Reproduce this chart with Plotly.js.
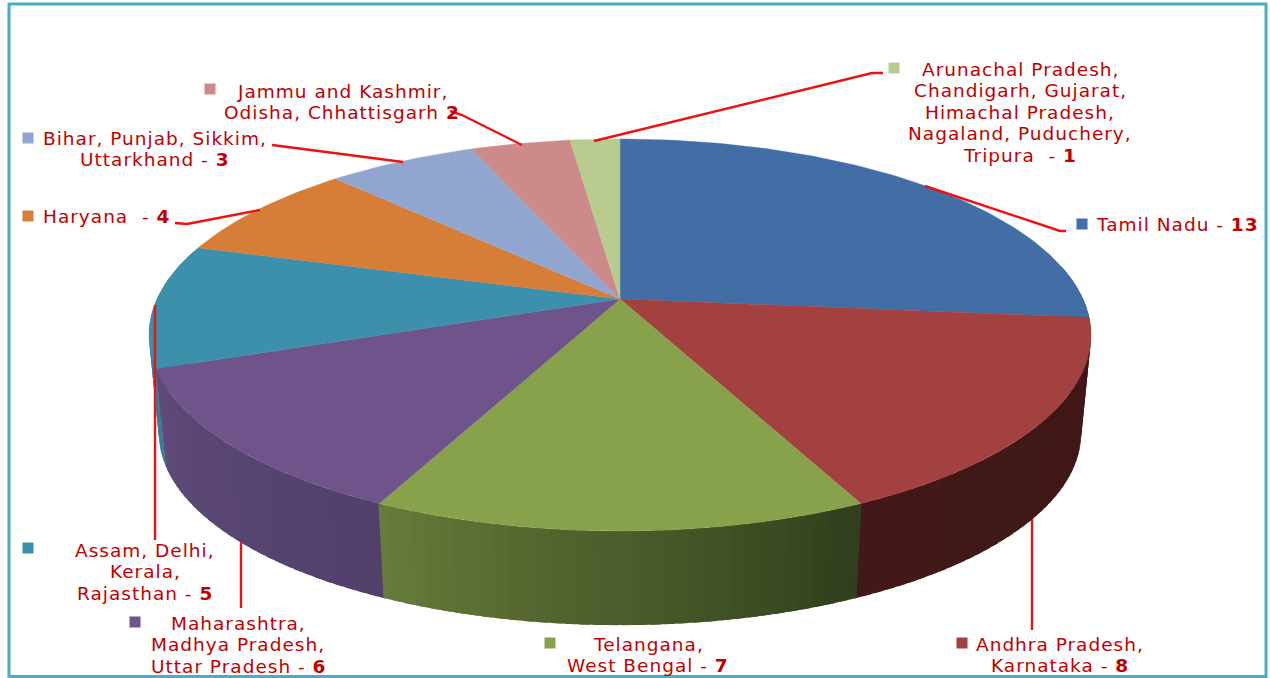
<!DOCTYPE html>
<html><head><meta charset="utf-8">
<script src="https://cdn.plot.ly/plotly-3.0.1.min.js"></script>
<style>html,body{margin:0;padding:0;background:#fff}#c{width:1270px;height:678px}
.annotation-text{letter-spacing:1px}</style>
</head><body><div id="c"></div>
<script>
const categories=["Tamil Nadu","Andhra Pradesh, Karnataka","Telangana, West Bengal","Maharashtra, Madhya Pradesh, Uttar Pradesh","Assam, Delhi, Kerala, Rajasthan","Haryana","Bihar, Punjab, Sikkim, Uttarkhand","Jammu and Kashmir, Odisha, Chhattisgarh","Arunachal Pradesh, Chandigarh, Gujarat, Himachal Pradesh, Nagaland, Puduchery, Tripura"];
const values=[13,8,7,6,5,4,3,2,1];
const topColors=["#426ea5","#a34140","#88a24c","#6f548b","#3d90ab","#d67e37","#90a6cf","#cc8b8a","#b7cc8e"];
const wallStart=["#2b4a70","#421819","#687c3a","#604a7a","#33809a","#8a5020","#5a6a88","#885a5a","#78865a"];
const wallEnd=["#2b4a70","#3f1716","#2f3e1c","#50406a","#33809a","#8a5020","#5a6a88","#885a5a","#78865a"];
const labelLines=[
 ["Tamil Nadu - <b>13</b>"],
 ["Andhra Pradesh,","Karnataka - <b>8</b>"],
 ["Telangana,","West Bengal - <b>7</b>"],
 ["Maharashtra,","Madhya Pradesh,","Uttar Pradesh - <b>6</b>"],
 ["Assam, Delhi,","Kerala,","Rajasthan - <b>5</b>"],
 ["Haryana  - <b>4</b>"],
 ["Bihar, Punjab, Sikkim,","Uttarkhand - <b>3</b>"],
 ["Jammu and Kashmir,","Odisha, Chhattisgarh <b>2</b>"],
 ["Arunachal Pradesh,","Chandigarh, Gujarat,","Himachal Pradesh,","Nagaland, Puduchery,","Tripura  - <b>1</b>"]];
const labelX=[1094,1060,648,238,145,41,155,342,1020];
const labelFirstY=[224,644,644,623,550,216,138,91,69];
const labelAnchor=["left","center","center","center","center","left","center","center","center"];
const keyX=[1082,962,550,135,28,28,28,210,894];
const keyY=[224,643,643,622,548,216,138,89,68];
const leaders=[
 [[925,186],[1060,231],[1066,231]],
 [[1032,510],[1032,630]],
 [],
 [[241,537],[241,608]],
 [[155,305],[155,540]],
 [[260,210],[187,224],[175,223]],
 [[403,162],[280,146],[272,145]],
 [[522,145],[462,115],[450,111]],
 [[594,141],[872,73],[883,73]]];

// perspective projection of the disc
const cx=620,cy=299,A=463,B=189.4,k=0.1837,bs=0.979,bd=99,lineGap=21.6;
function proj(deg,lower){
  const t=deg*Math.PI/180,u=Math.sin(t),v=Math.cos(t),den=1+k*v,s=lower?bs:1;
  return [cx+s*A*u/den,cy+(lower?bd:0)-s*B*v/den];
}
function hex(c){return [1,3,5].map(i=>parseInt(c.substr(i,2),16));}
function mix(a,b,f){const p=hex(a),q=hex(b);return "rgb("+p.map((x,i)=>Math.round(x+(q[i]-x)*f)).join(",")+")";}
const total=values.reduce((a,b)=>a+b,0);
let edges=[0];values.forEach(v=>edges.push(edges[edges.length-1]+v/total*360));

// side wall strips, painted back to front
const strips=[];
const step=1.5;
values.forEach((val,i)=>{
  const a=Math.max(edges[i],80),b=Math.min(edges[i+1],285);
  if(b<=a)return;
  const n=Math.max(1,Math.ceil((b-a)/step));
  for(let j=0;j<n;j++){
    const w=(b-a)/n,mid=a+w*(j+.5);
    const t0=Math.max(mid-w*.85,a-0.1),t1=Math.min(mid+w*.85,b+0.1);
    const xy=[];
    for(let d=0;d<=4;d++)xy.push(proj(t0+(t1-t0)*d/4,false));
    for(let d=4;d>=0;d--)xy.push(proj(t0+(t1-t0)*d/4,true));
    strips.push({depth:Math.cos(mid*Math.PI/180),xy:xy,col:mix(wallStart[i],wallEnd[i],1-(j+.5)/n)});
  }
});
strips.sort((p,q)=>q.depth-p.depth);
const traces=strips.map(s=>({type:"scatter",mode:"lines",x:s.xy.map(q=>q[0]).concat(s.xy[0][0]),y:s.xy.map(q=>q[1]).concat(s.xy[0][1]),
  fill:"toself",fillcolor:s.col,line:{color:s.col,width:0},hoverinfo:"skip",showlegend:false}));
// top face
values.forEach((val,i)=>{
  const xs=[cx],ys=[cy];
  const n=Math.max(2,Math.ceil((edges[i+1]-edges[i])/1));
  for(let j=0;j<=n;j++){const q=proj(edges[i]+(edges[i+1]-edges[i])*j/n,false);xs.push(q[0]);ys.push(q[1]);}
  xs.push(cx);ys.push(cy);
  traces.push({type:"scatter",mode:"lines",x:xs,y:ys,fill:"toself",fillcolor:topColors[i],line:{color:topColors[i],width:0.4},
    name:categories[i],text:categories[i]+": "+val,hoverinfo:"text",showlegend:false});
});

const shapes=[];
shapes.push({type:"rect",xref:"x",yref:"y",x0:9,y0:4,x1:1266,y1:676.5,line:{color:"#4bacc6",width:3},layer:"above"});
values.forEach((v,i)=>{
  shapes.push({type:"rect",x0:keyX[i]-5.5,x1:keyX[i]+5.5,y0:keyY[i]-5.5,y1:keyY[i]+5.5,fillcolor:topColors[i],line:{width:0},layer:"above"});
});
leaders.forEach((l,i)=>{
  if(!l.length)return;
  const path="M"+l.map(p=>p[0]+","+p[1]).join("L");
  const behind=(i===1||i===3);
  shapes.push({type:"path",path:path,line:{color:"#ee1111",width:2.4},layer:behind?"below":"above"});
});

const annotations=[];
labelLines.forEach((lines,i)=>lines.forEach((t,j)=>annotations.push({
  x:labelX[i],y:labelFirstY[i]+j*lineGap,xref:"x",yref:"y",text:t,showarrow:false,
  xanchor:labelAnchor[i],yanchor:"middle",align:labelAnchor[i],
  font:{family:"DejaVu Sans",size:18.5,color:"#c00000"}
})));

Plotly.newPlot("c",traces,{
  width:1270,height:678,margin:{l:0,r:0,t:0,b:0},paper_bgcolor:"#ffffff",plot_bgcolor:"#ffffff",showlegend:false,
  xaxis:{range:[0,1270],visible:false,fixedrange:true},
  yaxis:{range:[678,0],visible:false,fixedrange:true},
  shapes:shapes,annotations:annotations
},{displayModeBar:false,staticPlot:true});
</script></body></html>
